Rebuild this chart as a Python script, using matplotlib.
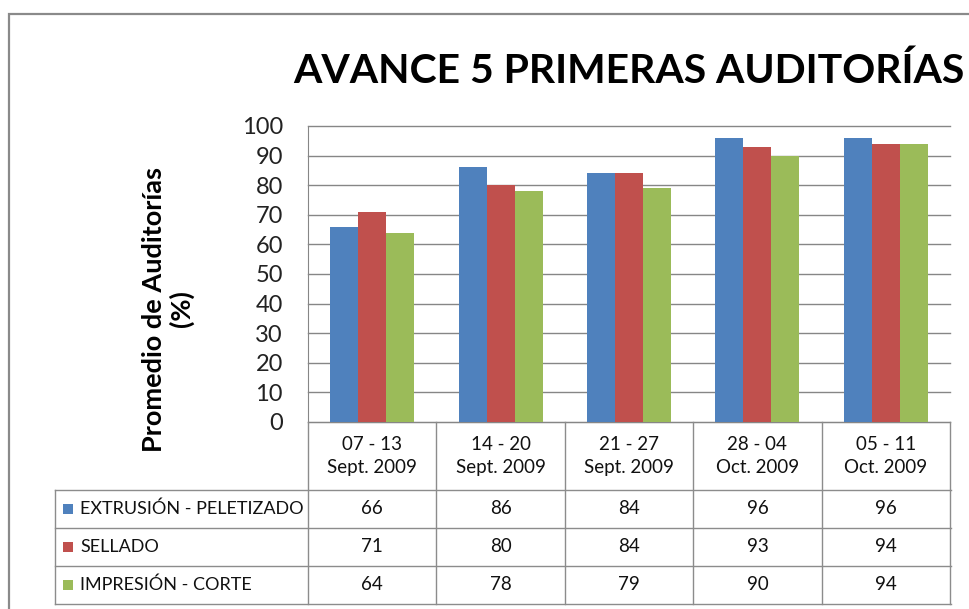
import numpy as np
import matplotlib.pyplot as plt
from matplotlib.patches import Rectangle

plt.rcParams['font.family'] = ['Lato', 'DejaVu Sans']

# data
semanas = ["07 - 13\nSept. 2009", "14 - 20\nSept. 2009", "21 - 27\nSept. 2009",
           "28 - 04\nOct. 2009", "05 - 11\nOct. 2009"]
series = ["EXTRUSIÓN - PELETIZADO", "SELLADO", "IMPRESIÓN - CORTE"]
extrusion = [66, 86, 84, 96, 96]
sellado = [71, 80, 84, 93, 94]
impresion = [64, 78, 79, 90, 94]
valores = [extrusion, sellado, impresion]
colores = ["#4F81BD", "#C0504D", "#9BBB59"]

W, H = 969, 609
fig = plt.figure(figsize=(W / 100, H / 100), dpi=100)

def fx(px):
    return px / W

def fy(py):
    return 1 - py / H

grid_col = "#868686"

# outer chart border
fig.patches.append(Rectangle((fx(9), fy(700)), fx(1100), fy(14) - fy(700),
                             transform=fig.transFigure, fill=False,
                             edgecolor="#8a8a8a", linewidth=1.6))

fig.text(fx(293), fy(83), "AVANCE 5 PRIMERAS AUDITORÍAS", fontsize=29.4,
         fontweight="bold", ha="left", va="baseline")

ax = fig.add_axes([fx(308), fy(422), fx(950) - fx(308), fy(126) - fy(422)])
n = len(semanas)
x = np.arange(n) + 0.5
bw = 0.218
for k in range(3):
    ax.bar(x + (k - 1) * bw, valores[k], width=bw, color=colores[k],
           linewidth=0, zorder=3)

ax.set_xlim(0, n)
ax.set_ylim(0, 100)
ax.set_yticks(range(0, 101, 10))
ax.set_xticks([])
ax.yaxis.grid(True, color=grid_col, linewidth=1)
for gl in ax.get_ygridlines():
    gl.set_clip_on(False)
ax.set_axisbelow(True)
for s in ["top", "right"]:
    ax.spines[s].set_visible(False)
for s in ["left", "bottom"]:
    ax.spines[s].set_color(grid_col)
ax.tick_params(axis="y", length=0, pad=18, labelsize=17, labelcolor="#222222")

fig.text(fx(168), fy(309), "Promedio de Auditorías\n(%)", rotation=90,
         fontsize=19.5, fontweight="bold", ha="center", va="center",
         multialignment="center", linespacing=1.1)

# data table
tab = fig.add_axes([fx(50), fy(609), fx(955) - fx(50), fy(418) - fy(609)])
tab.set_xlim(50, 955)
tab.set_ylim(609, 418)
tab.axis("off")
col_w = (950 - 308) / n
rows_y = [490, 528, 566, 604]
tcol = "#8c8c8c"
for k in range(n + 1):
    tab.plot([308 + k * col_w] * 2, [422, 604], color=tcol, lw=1)
tab.plot([55, 55], [490, 604], color=tcol, lw=1)
for y in rows_y:
    tab.plot([55, 951], [y, y], color=tcol, lw=1)

for i, lab in enumerate(semanas):
    tab.text(308 + (i + 0.5) * col_w, 456, lab, ha="center", va="center",
             fontsize=13.5, linespacing=1.4, color="#111111")

for k in range(3):
    yc = (rows_y[k] + rows_y[k + 1]) / 2
    tab.add_patch(Rectangle((63, yc - 5), 10, 10, color=colores[k], lw=0))
    tab.text(80, yc, series[k], ha="left", va="center", fontsize=13,
             color="#111111")
    for i in range(n):
        tab.text(308 + (i + 0.5) * col_w, yc, str(valores[k][i]), ha="center",
                 va="center", fontsize=13.5, color="#111111")

fig.savefig("out.png", dpi=100)
